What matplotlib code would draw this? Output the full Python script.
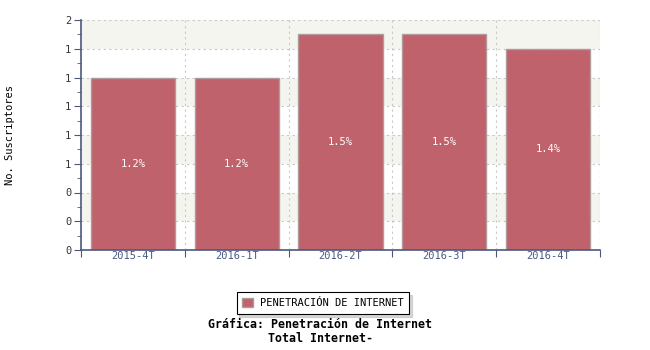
import matplotlib
matplotlib.use("Agg")
import matplotlib.pyplot as plt
from matplotlib.ticker import FixedLocator, MultipleLocator
import numpy as np

categories = ["2015-4T", "2016-1T", "2016-2T", "2016-3T", "2016-4T"]
values = [1.2, 1.2, 1.5, 1.5, 1.4]
bar_labels = ["1.2%", "1.2%", "1.5%", "1.5%", "1.4%"]
y_ticks = [0, 0.2, 0.4, 0.6, 0.8, 1.0, 1.2, 1.4, 1.6]
y_tick_labels = ["0", "0", "0", "1", "1", "1", "1", "1", "2"]
series_name = "PENETRACIÓN DE INTERNET"
title_lines = ["Gráfica: Penetración de Internet", "Total Internet-"]
y_label = "No. Suscriptores"

FONT = "DejaVu Sans Mono"
AXC = "#4a5880"
BAR = "#bf626b"
FS = 7.5

fig = plt.figure(figsize=(6.5, 3.5), dpi=100)
ax = fig.add_axes([81/650, 1 - 250/350, (600-81)/650, (250-20)/350])

n = len(categories)
x = np.arange(n)
ax.set_xlim(-0.5, n - 0.5)
ax.set_ylim(0, 1.6)

# alternating bands
for i in range(len(y_ticks) - 1):
    if i % 2 == 1:
        ax.axhspan(y_ticks[i], y_ticks[i+1], color="#f5f5f0", zorder=0, lw=0)

# grid
for yv in y_ticks[1:]:
    ax.axhline(yv, color="#c8c8c8", ls=(0, (2, 3)), lw=0.8, zorder=1)
for xv in np.arange(0.5, n, 1.0):
    ax.axvline(xv, color="#c8c8c8", ls=(0, (2, 3)), lw=0.8, zorder=1)
ax.axvline(n - 0.5, color="#c8c8c8", ls=(0, (2, 3)), lw=0.8, zorder=1)

bars = ax.bar(x, values, width=0.81, color=BAR, edgecolor="#b09a9c", linewidth=1.0, zorder=2)
for xi, v, lab in zip(x, values, bar_labels):
    ax.text(xi, v / 2, lab, ha="center", va="center", color="white",
            fontsize=FS, family=FONT, zorder=3)

for s in ["top", "right"]:
    ax.spines[s].set_visible(False)
for s in ["left", "bottom"]:
    ax.spines[s].set_color(AXC)
    ax.spines[s].set_linewidth(1.2)

ax.yaxis.set_major_locator(FixedLocator(y_ticks))
ax.set_yticklabels(y_tick_labels)
ax.yaxis.set_minor_locator(MultipleLocator(0.1))
ax.tick_params(axis="y", which="major", length=5, color=AXC, labelsize=FS, labelcolor="#333333", pad=2)
ax.tick_params(axis="y", which="minor", length=3, color=AXC)

ax.set_xticks(np.arange(-0.5, n, 1.0), minor=False)
ax.set_xticklabels([])
ax.set_xticks(x, minor=True)
ax.set_xticklabels(categories, minor=True)
ax.tick_params(axis="x", which="major", length=5, color=AXC, direction="out")
ax.tick_params(axis="x", which="minor", length=0, labelsize=FS, labelcolor=AXC, pad=1)
for lbl in ax.get_xticklabels(minor=True) + ax.get_yticklabels():
    lbl.set_family(FONT)

fig.text(10/650, 1 - 135/350, y_label, rotation=90, ha="center", va="center",
         fontsize=FS, family=FONT, color="black")

leg = fig.legend([bars[0]], [series_name], loc="center", bbox_to_anchor=(323/650, 1 - 303/350),
                 prop={"family": FONT, "size": FS}, frameon=True, fancybox=False,
                 shadow={"color": "#b0b0b0"}, edgecolor="black", borderpad=0.55,
                 handlelength=1.0, handleheight=1.0, handletextpad=0.7, borderaxespad=0)
leg.get_frame().set_linewidth(0.8)

fig.text(320/650, 1 - 324/350, title_lines[0], ha="center", va="center",
         fontsize=8.4, family=FONT, weight="bold")
fig.text(320/650, 1 - 338/350, title_lines[1], ha="center", va="center",
         fontsize=8.4, family=FONT, weight="bold")

fig.savefig("out.png", dpi=100)
